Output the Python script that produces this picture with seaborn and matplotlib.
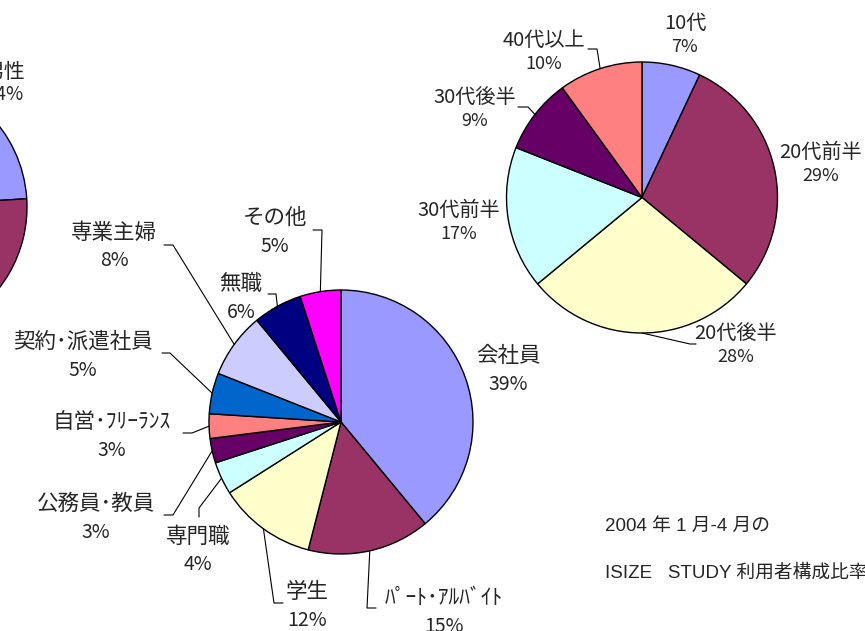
# plot.py
# Three pie charts of ISIZE STUDY users (Jan-Apr 2004): gender, occupation, age.

import matplotlib
matplotlib.use("Agg")
import numpy as np
import matplotlib.pyplot as plt
import seaborn as sns

# --- data ---
gender_labels = ["男性", "女性"]
gender_values = [24, 76]

job_labels = ["会社員", "ﾊﾟｰﾄ･ｱﾙﾊﾞｲﾄ", "学生", "専門職", "公務員･教員",
              "自営･ﾌﾘｰﾗﾝｽ", "契約･派遣社員", "専業主婦", "無職", "その他"]
job_values = [39, 15, 12, 4, 3, 3, 5, 8, 6, 5]

age_labels = ["10代", "20代前半", "20代後半", "30代前半", "30代後半", "40代以上"]
age_values = [7, 29, 28, 17, 9, 10]

note_lines = ["2004 年 1 月-4 月の", "ISIZE   STUDY 利用者構成比率"]

# classic spreadsheet pie palette
PALETTE = sns.color_palette(["#9999FF", "#993366", "#FFFFCC", "#CCFFFF", "#660066",
                             "#FF8080", "#0066CC", "#CCCCFF", "#000080", "#FF00FF"])

# --- layout (pixel coordinates, y pointing down) ---
W, H = 865, 631

gender_layout = dict(center=(-105, 207), radius=132, dy=23, size=15,
                     names=[(4, 72), None], leaders=[None, None])

job_layout = dict(
    center=(341, 422), radius=132, dy=28, size=15.5,
    names=[(508, 356), (444, 598), (307, 592), (198, 537), (96, 504),
           (112, 422), (83, 342), (114, 233), (241, 284), (275, 218)],
    leaders=[None,
             [(367, 608), (376, 608)],
             [(274, 603), (283, 603)],
             [(199, 508), (199, 517)],
             [(173, 515), (164, 515)],
             [(192, 433), (183, 433)],
             [(170, 353), (162, 353)],
             [(173, 245), (164, 245)],
             [(276, 294), (268, 294)],
             [(322, 230), (313, 230)]],
)

age_layout = dict(
    center=(642, 197.5), radius=135.5, dy=24, size=14.5,
    names=[(685, 23), (821, 152), (736, 333), (459, 210), (475, 97), (544, 40)],
    leaders=[None, None,
             [(690, 344), (696, 344)],
             None,
             [(528, 107), (518, 107)],
             [(597, 49), (588, 49)]],
)


def draw_pie(ax, labels, values, layout):
    """Draw one clockwise pie starting at 12 o'clock, with name/percent labels."""
    cx, cy = layout["center"]
    r = layout["radius"]
    # y axis is inverted, so -90 deg is screen-top and counterclock is screen-clockwise
    wedges, _ = ax.pie(values, colors=PALETTE[:len(values)], startangle=-90,
                       counterclock=True, center=(cx, cy), radius=r,
                       wedgeprops=dict(edgecolor="black", linewidth=1.0))
    for w, name, val, pos, lead in zip(wedges, labels, values,
                                       layout["names"], layout["leaders"]):
        if pos is None:
            continue
        x, y = pos
        ax.text(x, y, name, ha="center", va="center", fontsize=layout["size"])
        ax.text(x, y + layout["dy"], f"{val}%", ha="center", va="center",
                fontsize=layout["size"] - 1.5)
        if lead is not None:
            mid = np.deg2rad((w.theta1 + w.theta2) / 2)
            sx, sy = cx + r * np.cos(mid), cy + r * np.sin(mid)
            xs = [sx] + [p[0] for p in lead]
            ys = [sy] + [p[1] for p in lead]
            ax.plot(xs, ys, color="black", lw=0.8)


sns.set_theme(style="white")
plt.rcParams["font.family"] = ["Noto Sans CJK JP", "DejaVu Sans"]

fig = plt.figure(figsize=(W / 100, H / 100), dpi=100)
ax = fig.add_axes([0, 0, 1, 1])

draw_pie(ax, gender_labels, gender_values, gender_layout)
draw_pie(ax, job_labels, job_values, job_layout)
draw_pie(ax, age_labels, age_values, age_layout)

for i, line in enumerate(note_lines):
    ax.text(605, 526 + 47 * i, line, ha="left", va="center", fontsize=13.5,
            family=["Liberation Sans", "Noto Sans CJK JP"])

ax.set_xlim(0, W)
ax.set_ylim(H, 0)
ax.set_aspect("equal")
ax.axis("off")

fig.savefig("out.png", dpi=100)
